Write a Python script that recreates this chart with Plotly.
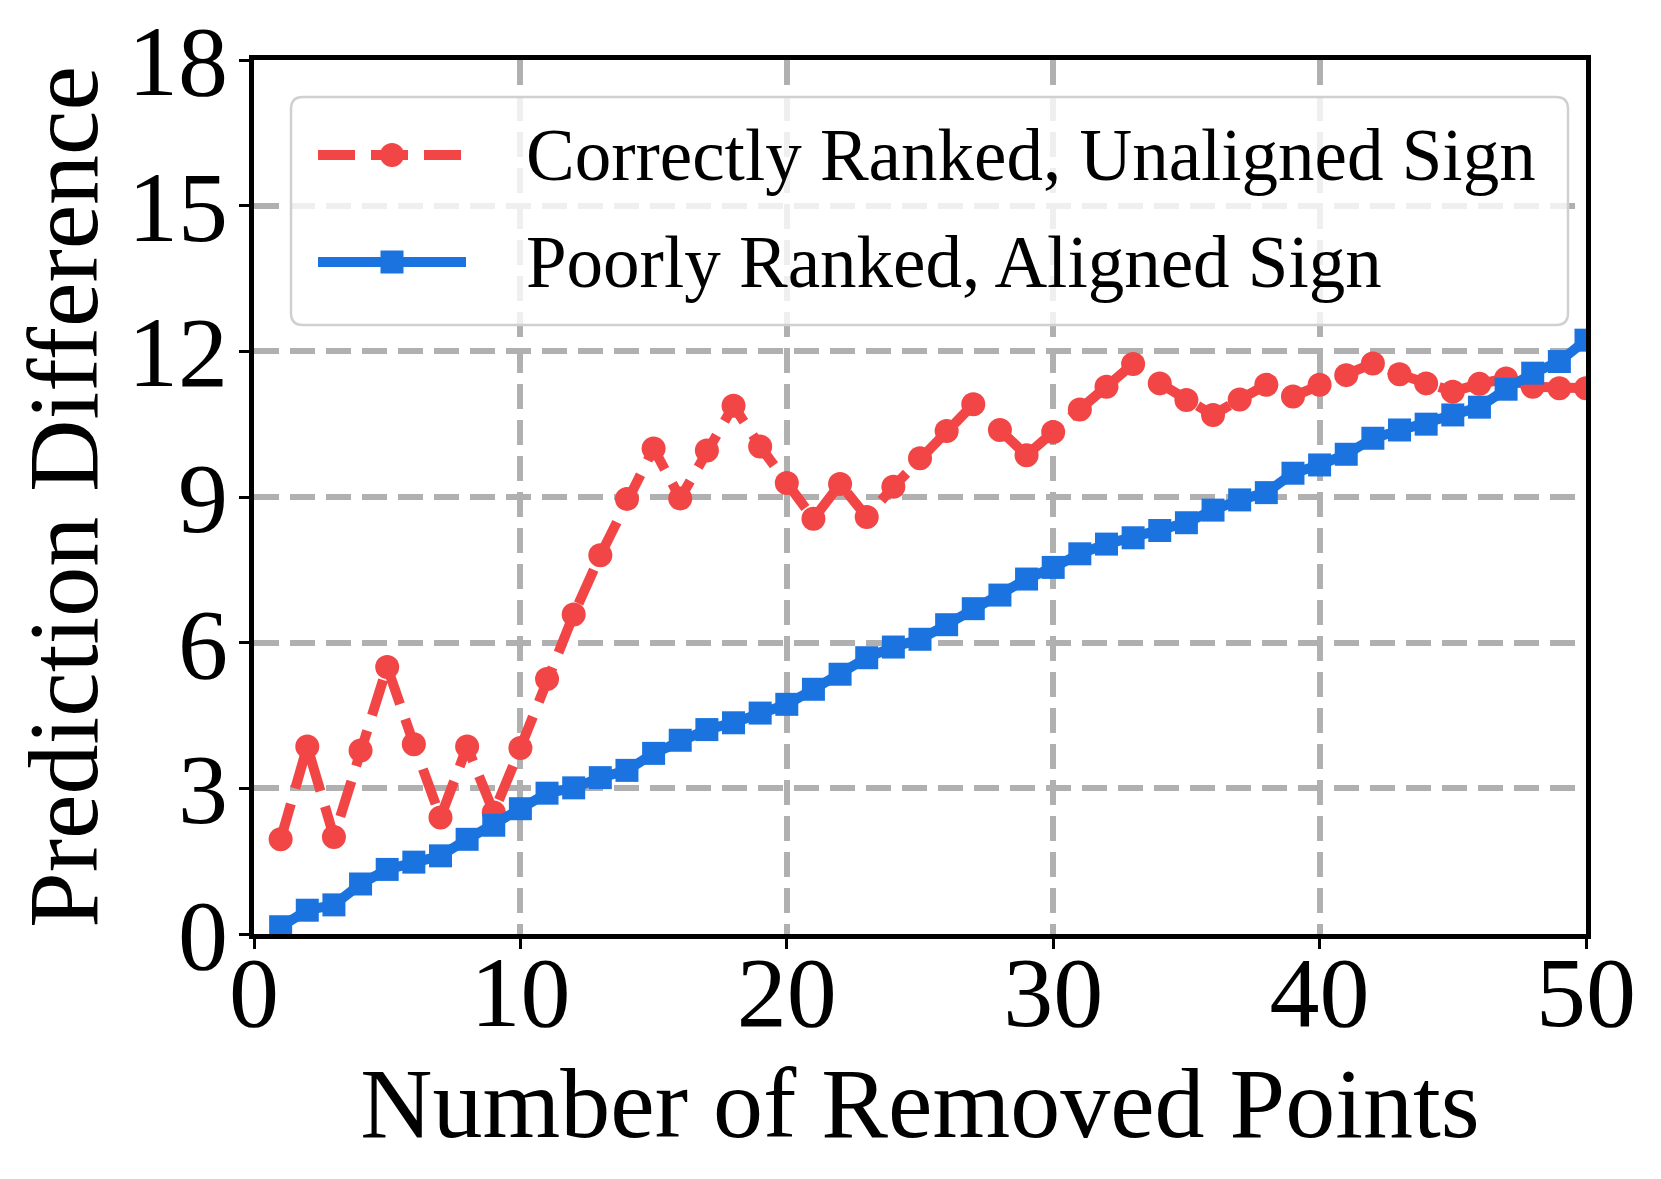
import plotly.graph_objects as go

x_points = list(range(1, 51))
correct_unaligned = [1.95, 3.86, 2.0, 3.78, 5.5, 3.91, 2.4, 3.86, 2.5, 3.83,
                     5.25, 6.58, 7.8, 8.96, 10.0, 8.97, 9.96, 10.88, 10.04, 9.29,
                     8.55, 9.27, 8.59, 9.21, 9.8, 10.36, 10.91, 10.38, 9.86, 10.34,
                     10.8, 11.27, 11.74, 11.34, 11.0, 10.69, 11.01, 11.31, 11.07, 11.31,
                     11.51, 11.75, 11.53, 11.34, 11.17, 11.33, 11.44, 11.27, 11.24, 11.24]
poor_aligned = [0.15, 0.49, 0.6, 1.03, 1.33, 1.48, 1.61, 1.95, 2.24, 2.58,
                2.9, 3.01, 3.22, 3.37, 3.72, 3.99, 4.21, 4.35, 4.55, 4.73,
                5.04, 5.35, 5.69, 5.91, 6.07, 6.37, 6.7, 6.98, 7.31, 7.55,
                7.83, 8.03, 8.16, 8.31, 8.47, 8.73, 8.94, 9.09, 9.49, 9.66,
                9.88, 10.21, 10.38, 10.5, 10.69, 10.85, 11.22, 11.55, 11.79, 12.23]
series_names = ["Correctly Ranked, Unaligned Sign", "Poorly Ranked, Aligned Sign"]
x_ticks = [0, 10, 20, 30, 40, 50]
y_ticks = [0, 3, 6, 9, 12, 15, 18]

RED = "#f24545"
BLUE = "#1b73e0"
FONT = "Liberation Serif"

OFF = 8  # page body margin
W, H = 1661 - OFF, 1179 - OFF
L, R, T, B = 254, 1586, 60, 934  # target screen pixels of the plot area

fig = go.Figure()
fig.add_trace(go.Scatter(x=x_points, y=correct_unaligned, mode="lines+markers",
                         line=dict(color=RED, width=10, dash="37px,16px"),
                         marker=dict(symbol="circle", size=24, color=RED),
                         name=series_names[0], showlegend=False))
fig.add_trace(go.Scatter(x=x_points, y=poor_aligned, mode="lines+markers",
                         line=dict(color=BLUE, width=10),
                         marker=dict(symbol="square", size=23, color=BLUE),
                         name=series_names[1], showlegend=False))

def px_x(p):
    return (p - L) / (R - L)

def px_y(p):
    return (B - p) / (B - T)

# legend box with rounded corners
bx0, bx1, by0, by1 = 291, 1568, 97, 325
r = 12
path = (f"M {px_x(bx0 + r)},{px_y(by0)} L {px_x(bx1 - r)},{px_y(by0)} "
        f"Q {px_x(bx1)},{px_y(by0)} {px_x(bx1)},{px_y(by0 + r)} "
        f"L {px_x(bx1)},{px_y(by1 - r)} Q {px_x(bx1)},{px_y(by1)} {px_x(bx1 - r)},{px_y(by1)} "
        f"L {px_x(bx0 + r)},{px_y(by1)} Q {px_x(bx0)},{px_y(by1)} {px_x(bx0)},{px_y(by1 - r)} "
        f"L {px_x(bx0)},{px_y(by0 + r)} Q {px_x(bx0)},{px_y(by0)} {px_x(bx0 + r)},{px_y(by0)} Z")
shapes = [dict(type="path", path=path, xref="paper", yref="paper",
               fillcolor="rgba(255,255,255,0.8)", line=dict(color="#d0d0d0", width=2.5),
               layer="above")]
ly1, ly2 = 155, 262
sx0, sx1, sxc = 318, 466, 392
shapes.append(dict(type="line", xref="paper", yref="paper", x0=px_x(sx0), x1=px_x(sx1),
                   y0=px_y(ly1), y1=px_y(ly1), line=dict(color=RED, width=10, dash="37px,16px"),
                   layer="above"))
shapes.append(dict(type="circle", xref="paper", yref="paper", x0=px_x(sxc - 12), x1=px_x(sxc + 12),
                   y0=px_y(ly1 + 12), y1=px_y(ly1 - 12), fillcolor=RED, line=dict(width=0),
                   layer="above"))
shapes.append(dict(type="line", xref="paper", yref="paper", x0=px_x(sx0), x1=px_x(sx1),
                   y0=px_y(ly2), y1=px_y(ly2), line=dict(color=BLUE, width=10), layer="above"))
shapes.append(dict(type="rect", xref="paper", yref="paper", x0=px_x(sxc - 11.5), x1=px_x(sxc + 11.5),
                   y0=px_y(ly2 + 11.5), y1=px_y(ly2 - 11.5), fillcolor=BLUE, line=dict(width=0),
                   layer="above"))

annotations = [
    dict(text=series_names[0], xref="paper", yref="paper", x=px_x(524), y=px_y(ly1),
         xanchor="left", yanchor="middle", showarrow=False,
         font=dict(family=FONT, size=73, color="black")),
    dict(text=series_names[1], xref="paper", yref="paper", x=px_x(524), y=px_y(ly2),
         xanchor="left", yanchor="middle", showarrow=False,
         font=dict(family=FONT, size=73, color="black")),
]

axis_common = dict(showline=True, linecolor="black", linewidth=5, mirror=True,
                   ticks="outside", ticklen=10, tickwidth=2.5, tickcolor="black",
                   showgrid=True, gridcolor="#b0b0b0", gridwidth=6, griddash="25px,11px",
                   zeroline=False, ticklabeloverflow="allow",
                   tickfont=dict(family=FONT, size=100, color="black"))

fig.update_layout(
    width=W, height=H,
    margin=dict(l=L - OFF, r=W - (R - OFF), t=T - OFF, b=H - (B - OFF), autoexpand=False),
    plot_bgcolor="white", paper_bgcolor="white",
    xaxis=dict(range=[0, 50], tickvals=x_ticks, ticklabelstandoff=-43, **axis_common,
               title=dict(text="Number of Removed Points", standoff=20,
                          font=dict(family=FONT, size=100, color="black"))),
    yaxis=dict(range=[0, 18], tickvals=y_ticks, ticklabelstandoff=-9, **axis_common,
               title=dict(text="Prediction Difference", standoff=25,
                          font=dict(family=FONT, size=100, color="black"))),
    shapes=shapes, annotations=annotations, showlegend=False,
)

fig.write_html("out.html")
